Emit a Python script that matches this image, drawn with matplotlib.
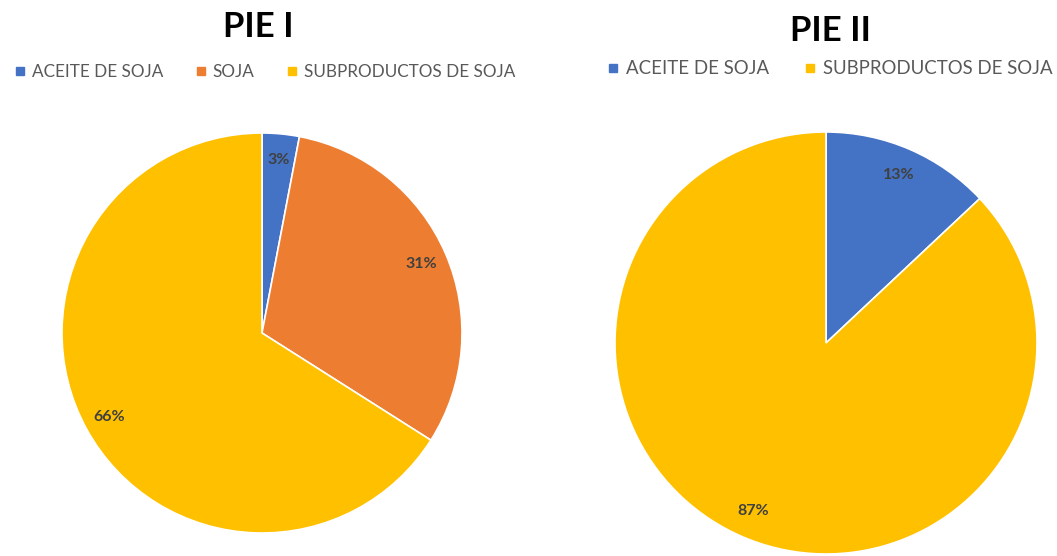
import matplotlib.pyplot as plt
from matplotlib.lines import Line2D

plt.rcParams['font.family'] = ['Lato', 'DejaVu Sans']

labels_1 = ['ACEITE DE SOJA', 'SOJA', 'SUBPRODUCTOS DE SOJA']
values_1 = [3, 31, 66]
colors_1 = ['#4472C4', '#ED7D31', '#FFC000']

labels_2 = ['ACEITE DE SOJA', 'SUBPRODUCTOS DE SOJA']
values_2 = [13, 87]
colors_2 = ['#4472C4', '#FFC000']

W, H = 1057, 556
fig = plt.figure(figsize=(W / 100, H / 100), dpi=100)


def draw_pie(box, values, colors, labels, title, title_xy, legend_xy, legend_size):
    ax = fig.add_axes(box)
    ax.pie(values, colors=colors, startangle=90, counterclock=False,
           autopct='%1.0f%%', pctdistance=0.87,
           wedgeprops=dict(edgecolor='white', linewidth=1.2),
           textprops=dict(color='#404040', fontsize=11.5, fontweight='bold'))
    ax.set_xlim(-1, 1)
    ax.set_ylim(-1, 1)
    ax.set_aspect('equal')
    ax.axis('off')
    fig.text(title_xy[0] / W, 1 - title_xy[1] / H, title, ha='center', va='center',
             fontsize=25, fontweight='bold', color='black')
    handles = [Line2D([], [], marker='s', linestyle='none', markersize=6,
                      color=c) for c in colors]
    fig.legend(handles, labels, loc='center', ncol=len(labels),
               bbox_to_anchor=(legend_xy[0] / W, 1 - legend_xy[1] / H),
               frameon=False, fontsize=legend_size, labelcolor='#595959',
               handlelength=0.6, handletextpad=0.4, columnspacing=1.9)


draw_pie([62 / W, 23 / H, 400 / W, 400 / H], values_1, colors_1, labels_1,
         'PIE I', (258, 27), (265, 72), 12.3)
draw_pie([615 / W, 2 / H, 422 / W, 422 / H], values_2, colors_2, labels_2,
         'PIE II', (831, 31), (830, 69), 13.4)

fig.savefig('out.png', dpi=100)
